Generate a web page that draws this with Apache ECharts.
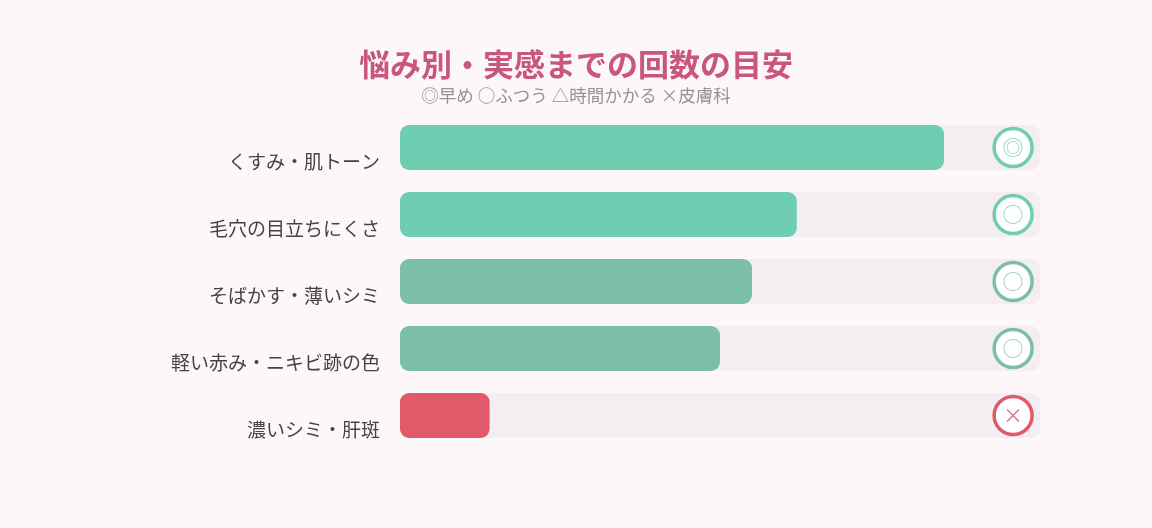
<!DOCTYPE html>
<html lang="ja">
<head>
  <meta charset="utf-8" />
  <title>悩み別・実感までの回数の目安</title>
  <style>
    html, body { margin: 0; padding: 0; background: #fdf7fa; }
    #main { width: 1152px; height: 528px; }
  </style>
</head>
<body>
  <div id="main"></div>
  <script src="https://cdn.jsdelivr.net/npm/echarts@6/dist/echarts.min.js"></script>
  <script>
    // 悩みごとの項目と目安（0-100）
    let concerns = ["くすみ・肌トーン", "毛穴の目立ちにくさ", "そばかす・薄いシミ", "軽い赤み・ニキビ跡の色", "濃いシミ・肝斑"];
    let scores = [85, 62, 55, 50, 14];
    let ratings = ["◎", "○", "○", "○", "×"];

    // 色
    let barColors = ["#6fcdb2", "#6fcdb2", "#7bbfaa", "#7bbfaa", "#e05a6a"];
    let markColors = ["#86d3bd", "#86d3bd", "#8fcdb9", "#8fcdb9", "#e0707f"];
    let markPos = 95.8;

    option = {
      backgroundColor: "#fdf7fa",
      textStyle: { fontFamily: "Noto Sans CJK JP" },
      title: {
        text: "悩み別・実感までの回数の目安",
        subtext: "◎早め ○ふつう △時間かかる ×皮膚科",
        left: "center",
        top: 44,
        itemGap: 7,
        textStyle: {
          fontFamily: "Noto Sans CJK JP",
          fontSize: 31,
          fontWeight: "bold",
          color: "#c8567e",
        },
        subtextStyle: {
          fontFamily: "Noto Sans CJK JP",
          fontSize: 17.5,
          color: "#9a9096",
        },
      },
      grid: {
        left: 400,
        right: 112,
        top: 114,
        bottom: 79,
      },
      xAxis: {
        type: "value",
        min: 0,
        max: 100,
        show: false,
      },
      yAxis: {
        type: "category",
        inverse: true,
        data: concerns,
        axisLine: { show: false },
        axisTick: { show: false },
        splitLine: { show: false },
        axisLabel: {
          margin: 20,
          fontSize: 19,
          lineHeight: 28,
          color: "#4b4045",
          formatter: function (v) {
            return "\n" + v;
          },
        },
      },
      series: [
        {
          type: "bar",
          barWidth: 45,
          data: scores.map(function (v, i) {
            return { value: v, itemStyle: { color: barColors[i] } };
          }),
          itemStyle: { borderRadius: 9 },
          showBackground: true,
          backgroundStyle: { color: "#f4eef2", borderRadius: 9 },
          silent: true,
        },
        {
          type: "scatter",
          symbol: "circle",
          symbolSize: 38,
          z: 5,
          data: ratings.map(function (r, i) {
            return {
              value: [markPos, concerns[i]],
              itemStyle: { color: "#ffffff", borderColor: barColors[i], borderWidth: 3.5, opacity: 1 },
              label: {
                show: true,
                position: "inside",
                formatter: r,
                fontSize: r === "×" ? 20 : 21,
                color: markColors[i],
              },
            };
          }),
          silent: true,
        },
      ],
    };
    chartBar = echarts.init(document.getElementById("main"));
    chartBar.setOption(option);
  </script>
</body>
</html>
